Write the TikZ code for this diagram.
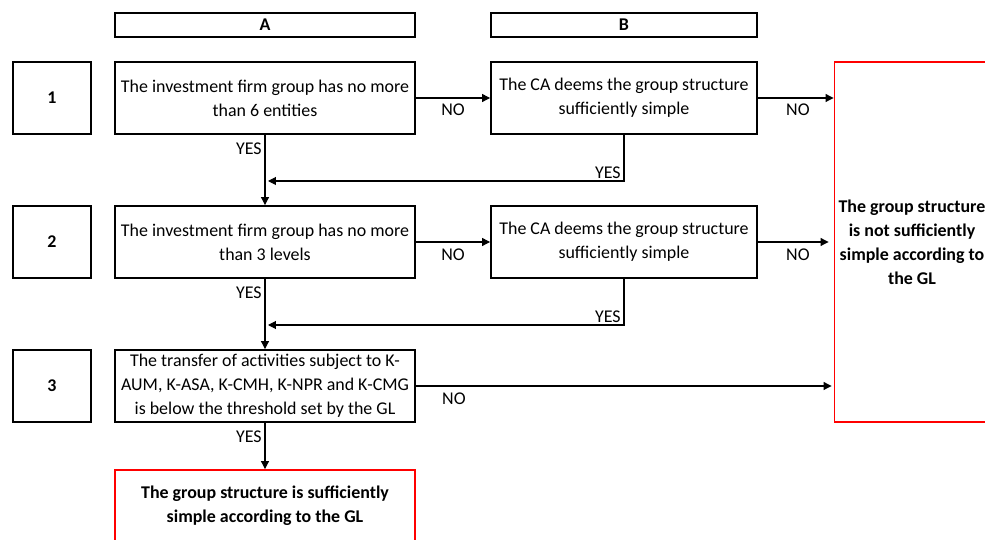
\documentclass[tikz,border=0pt]{standalone}
\usepackage{fontspec}
\setmainfont{Carlito}
\usetikzlibrary{positioning, calc, arrows.meta}
\tikzset{
    box/.style={draw, line width=1.1pt, minimum width=6cm, minimum height=1.44cm, align=center, inner sep=1pt, font=\fontsize{10.2}{13.6}\selectfont},
    bbox/.style={box, minimum width=5.32cm},
    head/.style={box, minimum height=0.48cm, font=\fontsize{10.2}{13.6}\selectfont\bfseries},
    numbox/.style={box, minimum width=1.56cm, font=\fontsize{10.2}{13.6}\selectfont\bfseries},
    redbox/.style={box, draw=red, font=\fontsize{10.2}{13.6}\selectfont\bfseries},
    lbl/.style={inner sep=0pt, font=\fontsize{10.2}{13.6}\selectfont},
    conn/.style={->, line width=0.6pt}
}
\begin{document}
\begin{tikzpicture}[x=0.02cm, y=-0.02cm, >={Triangle[length=4.5pt,width=4.5pt]}]
    %cornice
        \clip (0,0) rectangle (985,540);
        %intestazioni
        \node[head] (hA) at (265,25) {A};
        \node[head, minimum width=5.32cm] (hB) at (624,25) {B};
        %numeri
        \node[numbox] (n1) at (52,98) {1};
        \node[numbox] (n2) at (52,242) {2};
        \node[numbox] (n3) at (52,386) {3};
        %condizioni colonna A
        \node[box] (A1) at (265,98) {The investment firm group has no more\\than 6 entities};
        \node[box] (A2) at (265,242) {The investment firm group has no more\\than 3 levels};
        \node[box] (A3) at (265,386) {The transfer of activities subject to K-\\AUM, K-ASA, K-CMH, K-NPR and K-CMG\\is below the threshold set by the GL};
        %condizioni colonna B
        \node[bbox] (B1) at (624,98) {The CA deems the group structure\\sufficiently simple};
        \node[bbox] (B2) at (624,242) {The CA deems the group structure\\sufficiently simple};
        %esiti
        \node[redbox, minimum width=3.1cm, minimum height=7.2cm] (notsimple) at (912,242) {The group structure\\is not sufficiently\\simple according to\\the GL};
        \node[redbox] (simple) at (265,506) {The group structure is sufficiently\\simple according to the GL};
        %punti di rientro
        \coordinate (m1) at (268,181);
        \coordinate (m2) at (268,325);
        %collegamenti NO
        \draw[conn] (A1.east) -- (B1.west);
        \draw[conn] (A2.east) -- (B2.west);
        \draw[conn] (B1.east) -- (B1.east -| notsimple.west);
        \draw[conn] (B2.east) -- ($(B2.east -| notsimple.west)+(-5,0)$);
        \draw[conn] (A3.east) -- ($(A3.east -| notsimple.west)+(-2,0)$);
        %collegamenti YES
        \draw[conn] (A1.south) -- (A2.north);
        \draw[conn] (A2.south) -- (A3.north);
        \draw[conn] (A3.south) -- (simple.north);
        \draw[conn] (B1.south) |- (m1);
        \draw[conn] (B2.south) |- (m2);
        %label
        \node[lbl] (no1) at ($(A1.east)!0.5!(B1.west)+(0,12)$) {NO};
        \node[lbl] (no2) at ($(A2.east)!0.5!(B2.west)+(0,13)$) {NO};
        \node[lbl] (no3) at ($(B1.east)+(40,12)$) {NO};
        \node[lbl] (no4) at ($(B2.east)+(40,13)$) {NO};
        \node[lbl] (no5) at ($(A3.east)+(38,13)$) {NO};
        
        \node[lbl, anchor=east] (yes1) at ($(A1.south)+(-3,14)$) {YES};
        \node[lbl, anchor=east] (yes2) at ($(A2.south)+(-3,14)$) {YES};
        \node[lbl, anchor=east] (yes3) at ($(A3.south)+(-3,14)$) {YES};
        \node[lbl, anchor=east] (yes4) at ($(B1.south)+(-3,38)$) {YES};
        \node[lbl, anchor=east] (yes5) at ($(B2.south)+(-3,38)$) {YES};
\end{tikzpicture}
\end{document}
